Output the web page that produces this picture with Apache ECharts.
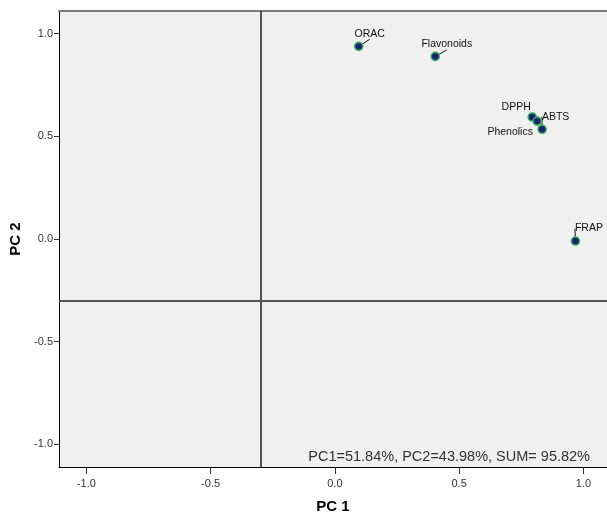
<!DOCTYPE html>
<html>
<head>
<meta charset="utf-8">
<script src="https://cdn.jsdelivr.net/npm/echarts@6/dist/echarts.min.js"></script>
<style>
html,body{margin:0;padding:0;background:#fff;}
#chart{width:607px;height:515px;}
</style>
</head>
<body>
<div id="chart"></div>
<script>
var names = ['ORAC', 'Flavonoids', 'DPPH', 'Phenolics', 'ABTS', 'FRAP'];
var pc1 = [0.096, 0.404, 0.794, 0.814, 0.834, 0.968];
var pc2 = [0.938, 0.889, 0.594, 0.574, 0.534, -0.010];
var tickValues = [-1.0, -0.5, 0.0, 0.5, 1.0];
var refLine = -0.3;
var annotation = 'PC1=51.84%, PC2=43.98%, SUM= 95.82%';

var labelOffsets = [[11, -12.5], [11.5, -12], [-16, -10], [-27, 11], [13.5, -12.5], [13.5, -12.5]];
var showLeader = [true, true, false, false, true, true];

var data = names.map(function (n, i) {
  return { value: [pc1[i], pc2[i], n], labelLine: { show: showLeader[i] } };
});

var FONT = "'Liberation Sans', Arial, sans-serif";
var chart = echarts.init(document.getElementById('chart'));
chart.setOption({
  animation: false,
  backgroundColor: '#ffffff',
  textStyle: { fontFamily: FONT },
  grid: {
    left: 59, top: 11, right: 0, bottom: 48,
    containLabel: false, outerBoundsMode: 'none',
    show: true, backgroundColor: '#f0f0f0', borderWidth: 0
  },
  xAxis: [{
    type: 'value', min: -1.11, max: 1.095,
    name: 'PC 1', nameLocation: 'middle', nameGap: 32,
    nameTextStyle: { fontSize: 15, fontWeight: 'bold', color: '#000', fontFamily: FONT },
    axisLine: { show: true, onZero: false, lineStyle: { color: '#000', width: 1 } },
    axisTick: { show: true, length: 7, customValues: tickValues, lineStyle: { color: '#333' } },
    axisLabel: { customValues: tickValues, margin: 11, fontSize: 11, color: '#333', fontFamily: FONT,
      formatter: function (v) { return v.toFixed(1); } },
    splitLine: { show: false }
  }, {
    type: 'value', position: 'top', min: -1.11, max: 1.095,
    axisLine: { show: true, onZero: false, lineStyle: { color: '#7a7a7a', width: 2 } },
    axisTick: { show: false }, axisLabel: { show: false }, splitLine: { show: false }
  }],
  yAxis: {
    type: 'value', min: -1.11, max: 1.11,
    name: 'PC 2', nameLocation: 'middle', nameGap: 25, nameRotate: 90,
    nameTextStyle: { fontSize: 15, fontWeight: 'bold', color: '#000', fontFamily: FONT },
    axisLine: { show: true, onZero: false, lineStyle: { color: '#000', width: 1 } },
    axisTick: { show: true, length: 5, customValues: tickValues, lineStyle: { color: '#333' } },
    axisLabel: { customValues: tickValues, margin: 6, fontSize: 11, color: '#333', fontFamily: FONT,
      formatter: function (v) { return v.toFixed(1); } },
    splitLine: { show: false }
  },
  series: [{
    type: 'scatter',
    xAxisIndex: 0,
    data: data,
    symbolSize: 8,
    itemStyle: { color: '#1c2070', borderColor: '#34a860', borderWidth: 1.6, opacity: 1 },
    label: {
      show: true, position: 'inside', align: 'center', verticalAlign: 'middle',
      fontSize: 10.5, color: '#111', fontFamily: FONT,
      formatter: function (p) { return p.value[2]; }
    },
    labelLine: { show: true, lineStyle: { color: '#111', width: 1 } },
    labelLayout: function (p) {
      var o = labelOffsets[p.dataIndex];
      return { dx: o[0], dy: o[1] };
    },
    markLine: {
      silent: true, symbol: 'none', animation: false,
      label: { show: false },
      lineStyle: { color: '#555', width: 2, type: 'solid' },
      data: [{ xAxis: refLine }, { yAxis: refLine }]
    },
    z: 5
  }],
  graphic: [{
    type: 'text', right: 17, bottom: 51,
    style: { text: annotation, font: '14.5px ' + FONT, fill: '#333' }
  }]
});
</script>
</body>
</html>
